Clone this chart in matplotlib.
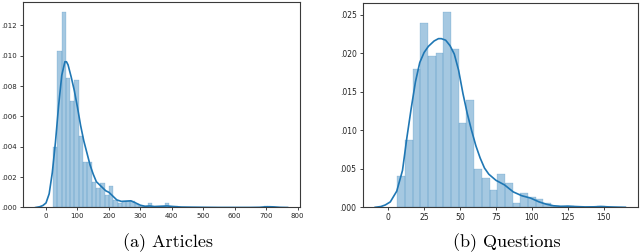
import numpy as np
import matplotlib
matplotlib.use("Agg")
import matplotlib.pyplot as plt
from matplotlib.ticker import FuncFormatter

# (a) Articles : histogramme (densite), 50 classes de 22 a 707
art_debut, art_fin, art_nb = 22, 707, 50
art_hauteurs = [.0040, .0103, .0129, .0085, .0070, .0084, .0047, .0030, .0030, .0017,
                .0013, .0016, .0008, .0014, .0005, .0003, .0004, .0004, .0004, .0002,
                .0001, .0001, .0003, .0001, .0001, .0001, .0003, .0001, .0001, .00005,
                .00005, .00005, 0, 0, 0, 0, 0, 0, 0, 0,
                0, 0, 0, 0, 0, 0, 0, 0, 0, .0001]
# courbe kde
art_kde_x = [-33, -20, -10, 0, 10, 20, 30, 40, 50, 60, 65, 70, 80, 90, 100, 110, 120, 130,
             140, 150, 160, 175, 190, 200, 210, 225, 240, 255, 270, 285, 300, 315, 330,
             345, 365, 385, 405, 430, 460, 500, 550, 600, 650, 680, 695, 710, 725, 745, 768]
art_kde_y = [0, .00005, .00013, .0003, .0009, .0023, .0043, .0067, .0087, .0096, .0096,
             .0094, .0086, .0077, .0066, .0054, .0044, .0036, .0028, .0022, .0017, .0014,
             .0011, .0010, .0008, .0005, .0004, .00042, .00044, .0003, .00015, .00008,
             .0001, .00006, .00008, .0001, .00006, .00003, .00002, .00001, 0, 0, 0,
             .00001, .00004, .00005, .00004, .00001, 0]
art_xticks = [0, 100, 200, 300, 400, 500, 600, 700, 800]
art_yticks = [0, .002, .004, .006, .008, .010, .012]

# (b) Questions : 27 classes de 6.3 a 150.75
que_debut, que_fin, que_nb = 6.3, 150.75, 27
que_hauteurs = [.0041, .0087, .0179, .0239, .0196, .0201, .0253, .0206, .0109, .0139,
                .0050, .0038, .0022, .0043, .0032, .0005, .0019, .0014, .0011, .0006,
                .0002, 0, .0002, 0, 0, 0, .0002]
que_kde_x = [-9, -5, -2, 1.5, 6, 10, 13, 16, 19, 22, 25, 28, 32, 35, 37, 40, 43, 46, 49,
             52, 55, 58, 61, 64, 67, 70, 75, 81, 87, 93, 99, 105, 110, 115, 120, 125,
             130, 137, 143, 148, 154, 160, 165]
que_kde_y = [0, .0001, .0003, .0007, .0021, .0048, .0090, .0128, .0163, .0188, .0201,
             .0209, .0216, .0219, .0219, .0217, .0210, .0199, .0178, .0148, .0122, .0100,
             .0080, .0064, .0051, .0043, .0035, .0029, .0020, .0015, .0012, .0007, .0004,
             .0002, .00013, .00015, .0001, .00005, .00006, .0001, .00005, .00002, 0]
que_xticks = [0, 25, 50, 75, 100, 125, 150]
que_yticks = [0, .005, .010, .015, .020, .025]

bleu = '#1f77b4'


def sans_zero(v, pos):
    return ('%.3f' % v)[1:]


def dessine(ax, debut, fin, nb, hauteurs, kx, ky, xt, yt, taille, pad_y):
    bords = np.linspace(debut, fin, nb + 1)
    ax.bar(bords[:-1], hauteurs, width=np.diff(bords), align='edge',
           color=bleu, alpha=0.4, edgecolor=bleu, linewidth=0.3)
    ax.plot(kx, ky, color=bleu, lw=1.2)
    ax.set_xticks(xt)
    ax.set_yticks(yt)
    ax.yaxis.set_major_formatter(FuncFormatter(sans_zero))
    ax.tick_params(axis='both', labelsize=taille, length=2, width=0.6, colors='#222222')
    ax.tick_params(axis='x', pad=2.0)
    ax.tick_params(axis='y', pad=pad_y)
    for s in ax.spines.values():
        s.set_color('#3a3a3a')
        s.set_linewidth(0.8)
    ax.set_ylim(0, max(hauteurs) * 1.05)


fig = plt.figure(figsize=(6.4, 2.52), dpi=100)
ax1 = fig.add_axes([0.036, 0.1766, 0.433, 0.816])
ax2 = fig.add_axes([0.5667, 0.1774, 0.430, 0.8118])

dessine(ax1, art_debut, art_fin, art_nb, art_hauteurs, art_kde_x, art_kde_y,
        art_xticks, art_yticks, 5, 2.6)
dessine(ax2, que_debut, que_fin, que_nb, que_hauteurs, que_kde_x, que_kde_y,
        que_xticks, que_yticks, 5.5, 2.4)

fig.text(0.262, 0.036, '(a) Articles', ha='center', va='center',
         fontfamily='cmr10', fontsize=13)
fig.text(0.792, 0.036, '(b) Questions', ha='center', va='center',
         fontfamily='cmr10', fontsize=13)

fig.savefig('out.png', dpi=100)
